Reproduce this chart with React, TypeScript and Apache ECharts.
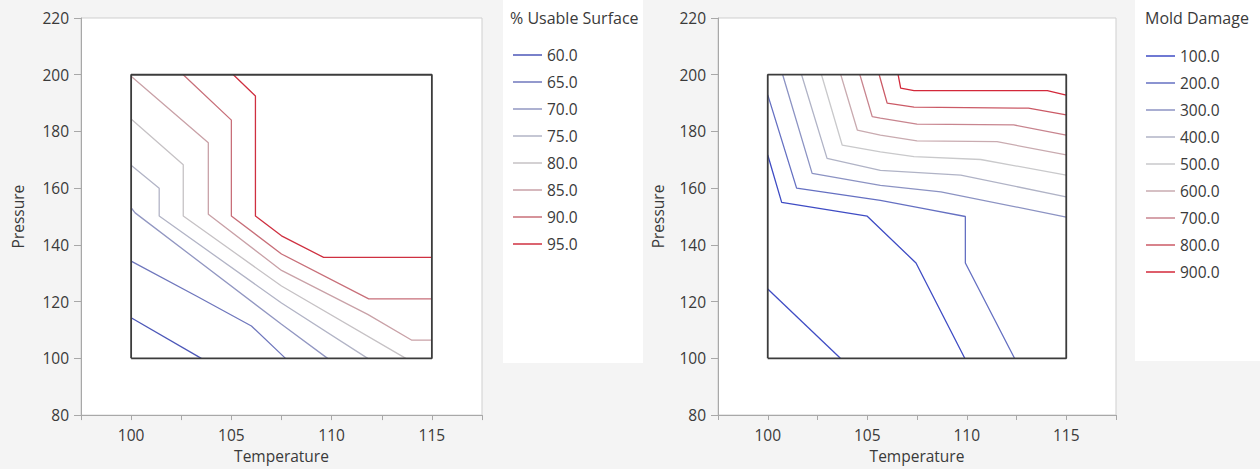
import React, { useEffect, useRef } from "react";
import * as echarts from "echarts";

// ---------- Left chart: % Usable Surface ----------
const usableLevels = ["60.0", "65.0", "70.0", "75.0", "80.0", "85.0", "90.0", "95.0"];
const usableColors = ["#4c57b8", "#6f77bd", "#9297c2", "#b2b4c6", "#c6c2c5", "#c9a1a7", "#c86f79", "#cf3040"];
const usable60 = [[100, 114.3], [103.5, 100]];
const usable65 = [[100, 134.3], [103.3, 121.8], [106.0, 111.4], [107.7, 100]];
const usable70 = [[100, 153.1], [100.2, 151.3], [107.5, 112], [109.8, 100]];
const usable75 = [[100, 168.1], [101.4, 160.0], [101.4, 150.2], [107.5, 119.5], [111.8, 100]];
const usable80 = [[100, 184.4], [102.6, 168.3], [102.6, 150.2], [107.5, 125.5], [113.7, 100]];
const usable85 = [[100, 199.5], [103.85, 176.0], [103.85, 150.8], [107.5, 131], [111.8, 115.5], [114.0, 106.4], [115, 106.4]];
const usable90 = [[102.6, 200], [105.0, 184.0], [105.0, 150.2], [107.5, 136.8], [111.85, 121.0], [115, 121.0]];
const usable95 = [[105.1, 200], [106.2, 192.5], [106.2, 150.2], [107.5, 143.2], [109.6, 135.6], [115, 135.6]];
const usableLines = [usable60, usable65, usable70, usable75, usable80, usable85, usable90, usable95];

// ---------- Right chart: Mold Damage ----------
const moldLevels = ["100.0", "200.0", "300.0", "400.0", "500.0", "600.0", "700.0", "800.0", "900.0"];
const moldColors = ["#3f4cc4", "#6570c2", "#8c93c3", "#b0b3c6", "#c9c9cb", "#c9abb0", "#c8858f", "#cb5a66", "#d3283a"];
const mold100a = [[100, 124.4], [103.65, 100]];
const mold100b = [[100, 171.7], [100.7, 155.0], [105.0, 150.1], [107.45, 133.6], [109.9, 100]];
const mold200 = [[100, 192.9], [101.45, 160.0], [105.66, 155.7], [107.85, 152.8], [109.93, 150.0], [109.93, 133.6], [112.4, 100]];
const mold300 = [[100.75, 200], [102.23, 165.2], [105.66, 161.0], [108.7, 158.7], [115, 149.8]];
const mold400 = [[101.7, 200], [102.98, 170.5], [105.66, 166.3], [109.7, 164.6], [115, 156.9]];
const mold500 = [[102.7, 200], [103.74, 175.2], [105.66, 172.8], [107.35, 171.1], [110.7, 170.1], [115, 164.6]];
const mold600 = [[103.67, 200], [104.5, 180.5], [105.66, 178.7], [107.5, 176.7], [111.52, 176.4], [115, 171.7]];
const mold700 = [[104.63, 200], [105.25, 185.2], [105.66, 184.7], [107.5, 182.6], [112.36, 182.3], [115, 178.7]];
const mold800 = [[105.6, 200], [106.0, 190.0], [107.35, 188.6], [113.1, 188.2], [115, 185.8]];
const mold900 = [[106.55, 200], [106.68, 195.3], [107.35, 194.4], [114.05, 194.4], [115, 192.8]];
const moldLines = [[mold100a, mold100b], [mold200], [mold300], [mold400], [mold500], [mold600], [mold700], [mold800], [mold900]];

// design region box
const designBox = [[100, 100], [115, 100], [115, 200], [100, 200], [100, 100]];

const FONT = "'Open Sans', 'Noto Sans', sans-serif";
const FS = 15.5;
const TXT = "#3a3a3a";

function makeX(gridIndex: number, labelMargin: number, nameGap: number) {
  return {
    type: "value",
    gridIndex,
    min: 97.5,
    max: 117.5,
    interval: 2.5,
    name: "Temperature",
    nameLocation: "middle",
    nameGap,
    nameTextStyle: { color: TXT, fontSize: FS, fontFamily: FONT },
    axisLine: { show: true, lineStyle: { color: "#a8a8a8", width: 1 } },
    axisTick: { show: true, length: 5, lineStyle: { color: "#a8a8a8" } },
    axisLabel: {
      margin: labelMargin,
      color: TXT,
      fontSize: FS,
      fontFamily: FONT,
      formatter: (v: number) => (Math.abs(v % 5) < 1e-9 ? String(v) : ""),
    },
    splitLine: { show: false },
  };
}

function makeY(gridIndex: number, nameGap: number) {
  return {
    type: "value",
    gridIndex,
    min: 80,
    max: 220,
    interval: 20,
    name: "Pressure",
    nameLocation: "middle",
    nameGap,
    nameTextStyle: { color: TXT, fontSize: FS, fontFamily: FONT },
    axisLine: { show: true, lineStyle: { color: "#a8a8a8", width: 1 } },
    axisTick: { show: true, length: 7, lineStyle: { color: "#a8a8a8" } },
    axisLabel: { margin: 12, color: TXT, fontSize: FS, fontFamily: FONT },
    splitLine: { show: false },
  };
}

function lineSeries(name: string, data: number[][], color: string, idx: number) {
  return {
    type: "line",
    name,
    xAxisIndex: idx,
    yAxisIndex: idx,
    data,
    showSymbol: false,
    symbol: "none",
    silent: true,
    color,
    lineStyle: { color, width: 1.3 },
    z: 3,
  };
}

export default function App() {
  const ref = useRef<HTMLDivElement>(null);

  useEffect(() => {
    if (!ref.current) return;
    const chart = echarts.init(ref.current, undefined, { renderer: "svg" });

    const series: any[] = [];
    usableLines.forEach((d, i) => series.push(lineSeries(usableLevels[i], d, usableColors[i], 0)));
    moldLines.forEach((pieces, i) =>
      pieces.forEach((d) => series.push(lineSeries(moldLevels[i], d, moldColors[i], 1)))
    );
    [0, 1].forEach((idx) =>
      series.push({
        type: "line",
        name: "box" + idx,
        xAxisIndex: idx,
        yAxisIndex: idx,
        data: designBox,
        showSymbol: false,
        symbol: "none",
        silent: true,
        lineStyle: { color: "#3c3c3c", width: 1.8 },
        z: 4,
      })
    );

    const legendCommon = {
      orient: "vertical",
      icon: "rect",
      itemWidth: 29,
      itemHeight: 1.5,
      itemGap: 11,
      padding: 0,
      selectedMode: false,
      textStyle: { color: TXT, fontSize: FS, fontFamily: FONT, lineHeight: 16 },
    };

    chart.setOption({
      animation: false,
      backgroundColor: "#f4f4f4",
      textStyle: { fontFamily: FONT },
      graphic: [
        { type: "rect", shape: { x: 503, y: 0, width: 140, height: 363 }, style: { fill: "#ffffff" }, z: -10 },
        { type: "rect", shape: { x: 1135, y: 0, width: 125, height: 361 }, style: { fill: "#ffffff" }, z: -10 },
      ],
      title: [
        {
          text: "% Usable Surface",
          left: 510,
          top: 10,
          padding: 0,
          textStyle: { color: TXT, fontSize: 16, fontWeight: "normal", fontFamily: FONT },
        },
        {
          text: "Mold Damage",
          left: 1145,
          top: 10,
          padding: 0,
          textStyle: { color: TXT, fontSize: 16, fontWeight: "normal", fontFamily: FONT },
        },
      ],
      legend: [
        { ...legendCommon, left: 513, top: 47, data: usableLevels },
        { ...legendCommon, left: 1146, top: 48, data: moldLevels },
      ],
      grid: [
        { left: 81, top: 18, width: 401, height: 403, show: true, backgroundColor: "#ffffff", borderColor: "#cfcfcf", borderWidth: 1 },
        { left: 718, top: 18, width: 398, height: 397, show: true, backgroundColor: "#ffffff", borderColor: "#cfcfcf", borderWidth: 1 },
      ],
      xAxis: [makeX(0, 12, 30), makeX(1, 12, 30)],
      yAxis: [makeY(0, 55), makeY(1, 52)],
      series,
    });

    return () => chart.dispose();
  }, []);

  return (
    <div
      ref={ref}
      style={{ position: "absolute", left: 0, top: 0, width: 1260, height: 469 }}
    />
  );
}
